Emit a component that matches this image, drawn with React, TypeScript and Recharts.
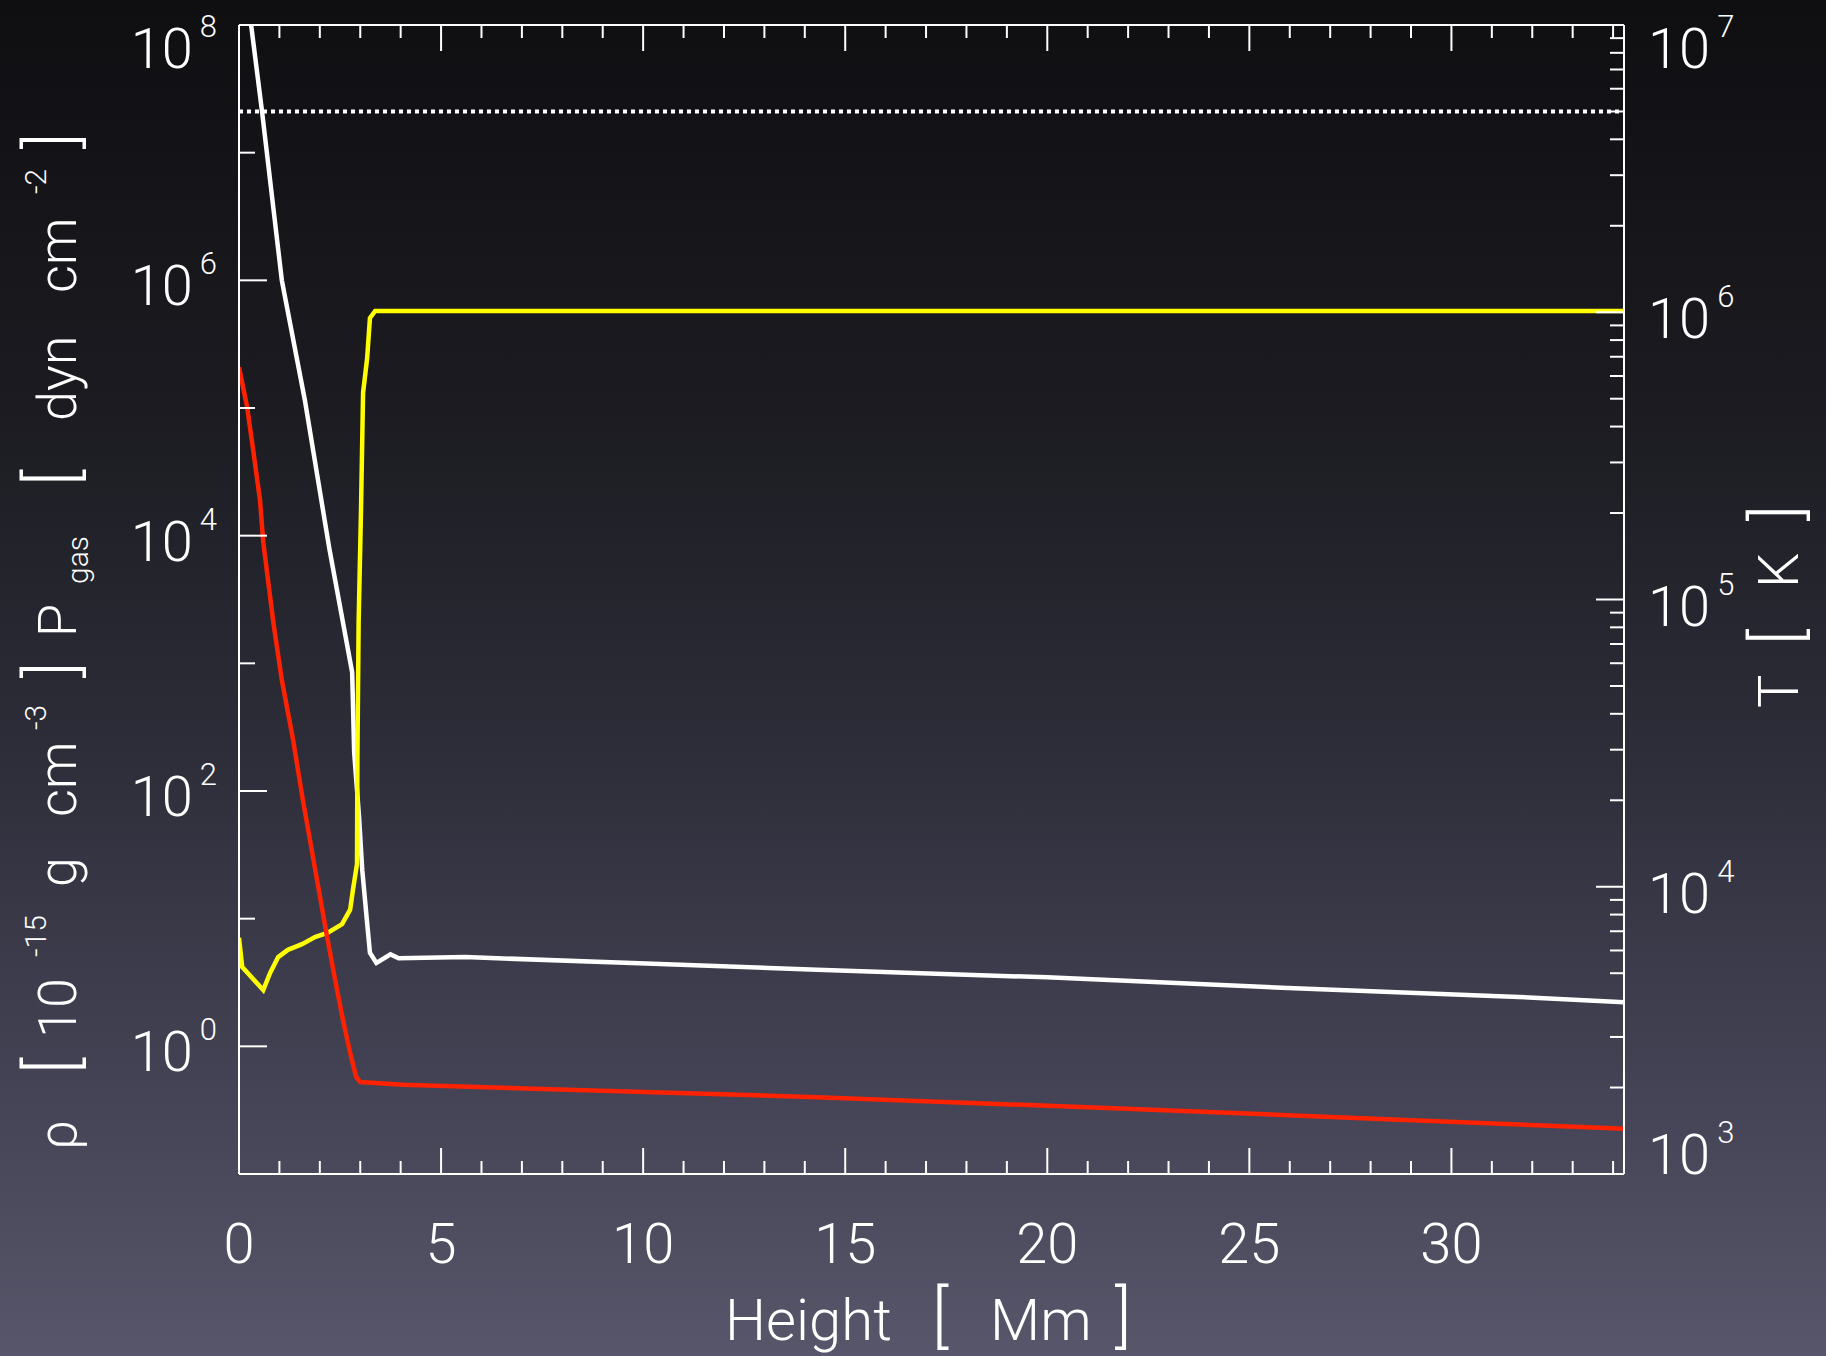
import React from 'react';
import { LineChart, Line, XAxis, YAxis } from 'recharts';

// height in Mm
const pgasHeight = [0, 0.3, 0.57, 1.06, 1.63, 2.23, 2.8, 2.85, 2.97, 3.05, 3.17, 3.24, 3.4, 3.75, 3.95, 5.6, 9.9, 14.3, 20.0, 25.8, 31.5, 34.27];
// gas pressure, dyn cm^-2
const pgasValue = [6.0e8, 1.0e8, 2.1e7, 1.0e6, 1.15e5, 8100, 850, 200, 63, 24, 9.3, 5.4, 4.5, 5.25, 4.9, 5.0, 4.47, 3.98, 3.47, 2.88, 2.45, 2.21];

const rhoHeight = [0, 0.2, 0.35, 0.52, 0.6, 0.85, 1.06, 1.34, 1.58, 1.71, 1.96, 2.18, 2.38, 2.57, 2.75, 2.9, 3.0, 4.06, 14.3, 22.9, 28.7, 34.27];
// density, 1e-15 g cm^-3
const rhoValue = [2.09e5, 1.02e5, 4.7e4, 1.9e4, 8900, 2090, 740, 250, 85, 50, 17.8, 7.2, 3.3, 1.62, 0.89, 0.575, 0.525, 0.5, 0.4, 0.316, 0.266, 0.226];

const tempHeight = [0, 0.08, 0.6, 0.77, 0.97, 1.21, 1.56, 1.88, 2.2, 2.55, 2.75, 2.82, 2.92, 2.93, 2.96, 3.02, 3.07, 3.17, 3.24, 3.37, 34.27];
// temperature, K
const tempValue = [6650, 5250, 4370, 5010, 5690, 6030, 6310, 6680, 6920, 7410, 8320, 9770, 12000, 28000, 83000, 209000, 525000, 690000, 955000, 1.01e6, 1.01e6];

// dotted reference level (right axis)
const refHeight = [0, 34.27];
const refTemp = [5.0e6, 5.0e6];

const heightTicks = [0, 1, 2, 3, 4, 5, 6, 7, 8, 9, 10, 11, 12, 13, 14, 15, 16, 17, 18, 19, 20, 21, 22, 23, 24, 25, 26, 27, 28, 29, 30, 31, 32, 33, 34];
const leftDecades = [1e-1, 1e0, 1e1, 1e2, 1e3, 1e4, 1e5, 1e6, 1e7, 1e8];
const rightDecades = [1e3, 1e4, 1e5, 1e6];
const rightTicks = [...rightDecades.flatMap((d) => [1, 2, 3, 4, 5, 6, 7, 8, 9].map((m) => m * d)), 1e7];

const W = 1826;
const H = 1356;
const FONT = 'Roboto, "DejaVu Sans", sans-serif';
const TOP = 25;
const BOTTOM = 1174;

const rows = (hs: number[], vs: number[]) => hs.map((h, i) => ({ h, v: vs[i] }));
const clamp = (v: number, lo: number, hi: number) => Math.max(lo, Math.min(hi, v));
const expOf = (v: number) => Math.round(Math.log10(v));
const isDecade = (v: number) => Math.abs(Math.log10(v) - Math.round(Math.log10(v))) < 1e-6;

const txt = { fill: '#fff', fontFamily: FONT, fontWeight: 300 } as const;

const Pow = ({ x, cy, e, anchor }: { x: number; cy: number; e: number; anchor: 'start' | 'end' }) => (
  <text x={x} y={cy + 20} textAnchor={anchor} fontSize={56} {...txt}>
    10
    <tspan dx={7} dy={-31} fontSize={31}>{e}</tspan>
  </text>
);

function BottomTick(props: any) {
  const { x, y, payload } = props;
  const v = payload.value;
  const major = v % 5 === 0;
  return (
    <g>
      <line x1={x} x2={x} y1={y} y2={y - (major ? 26 : 13)} stroke="#fff" strokeWidth={2} />
      {major && (
        <text x={x} y={y + 89} textAnchor="middle" fontSize={56} {...txt}>{v}</text>
      )}
    </g>
  );
}

function TopTick(props: any) {
  const { x, y, payload } = props;
  const major = payload.value % 5 === 0;
  return <line x1={x} x2={x} y1={y} y2={y + (major ? 26 : 13)} stroke="#fff" strokeWidth={2} />;
}

function LeftTick(props: any) {
  const { x, y, payload } = props;
  const e = expOf(payload.value);
  const major = e % 2 === 0;
  return (
    <g>
      <line x1={x} x2={x + (major ? 28 : 16)} y1={y} y2={y} stroke="#fff" strokeWidth={2} />
      {major && <Pow x={x - 22} cy={clamp(y + 5, TOP + 23, BOTTOM - 20)} e={e} anchor="end" />}
    </g>
  );
}

function RightTick(props: any) {
  const { x, y, payload } = props;
  const major = isDecade(payload.value);
  return (
    <g>
      <line x1={x} x2={x - (major ? 28 : 14)} y1={y} y2={y} stroke="#fff" strokeWidth={2} />
      {major && <Pow x={x + 24} cy={clamp(y + 6, TOP + 23, BOTTOM - 20)} e={expOf(payload.value)} anchor="start" />}
    </g>
  );
}

const Titles = () => (
  <svg width={W} height={H} style={{ position: 'absolute', left: 0, top: 0, pointerEvents: 'none' }}>
    <text y={1340} fontSize={58} {...txt}>
      <tspan x={725}>Height</tspan>
      <tspan x={932} fontSize={68}>[</tspan>
      <tspan x={990}>Mm</tspan>
      <tspan x={1115} fontSize={68}>]</tspan>
    </text>
    <text transform="rotate(-90)" fontSize={54} {...txt}>
      <tspan x={-1150} y={76}>ρ</tspan>
      <tspan x={-1074} y={76} fontSize={68}>[</tspan>
      <tspan x={-1038} y={76}>10</tspan>
      <tspan x={-957} y={46} fontSize={30}>-15</tspan>
      <tspan x={-887} y={76}>g</tspan>
      <tspan x={-817} y={76}>cm</tspan>
      <tspan x={-730} y={46} fontSize={30}>-3</tspan>
      <tspan x={-678} y={76} fontSize={68}>]</tspan>
      <tspan x={-637} y={76}>P</tspan>
      <tspan x={-584} y={88} fontSize={30}>gas</tspan>
      <tspan x={-486} y={76} fontSize={68}>[</tspan>
      <tspan x={-421} y={76}>dyn</tspan>
      <tspan x={-293} y={76}>cm</tspan>
      <tspan x={-194} y={46} fontSize={30}>-2</tspan>
      <tspan x={-149} y={76} fontSize={68}>]</tspan>
    </text>
    <text transform="rotate(-90)" fontSize={56} {...txt}>
      <tspan x={-708} y={1798}>T</tspan>
      <tspan x={-645} y={1800} fontSize={66}>[</tspan>
      <tspan x={-588} y={1798}>K</tspan>
      <tspan x={-521} y={1800} fontSize={66}>]</tspan>
    </text>
  </svg>
);

export default function App() {
  return (
    <div
      style={{
        position: 'absolute',
        left: 0,
        top: 0,
        width: W,
        height: H,
        overflow: 'hidden',
        background: 'linear-gradient(to bottom, #0f0f12 0%, #1b1b21 30%, #2d2d39 55%, #444355 80%, #57566a 100%)',
      }}
    >
      <LineChart width={W} height={H} margin={{ top: 0, right: 0, bottom: 0, left: 0 }}>
        <XAxis
          xAxisId="b"
          type="number"
          dataKey="h"
          domain={[0, 34.27]}
          allowDataOverflow
          ticks={heightTicks}
          interval={0}
          height={H - BOTTOM}
          tickSize={0}
          tickMargin={0}
          tickLine={false}
          tick={BottomTick}
          axisLine={{ stroke: '#fff', strokeWidth: 2 }}
        />
        <XAxis
          xAxisId="t"
          orientation="top"
          type="number"
          dataKey="h"
          domain={[0, 34.27]}
          allowDataOverflow
          ticks={heightTicks}
          interval={0}
          height={TOP}
          tickSize={0}
          tickMargin={0}
          tickLine={false}
          tick={TopTick}
          axisLine={{ stroke: '#fff', strokeWidth: 2 }}
        />
        <YAxis
          yAxisId="l"
          type="number"
          scale="log"
          domain={[0.1, 1e8]}
          allowDataOverflow
          ticks={leftDecades}
          interval={0}
          width={239}
          tickSize={0}
          tickMargin={0}
          tickLine={false}
          tick={LeftTick}
          axisLine={{ stroke: '#fff', strokeWidth: 2 }}
        />
        <YAxis
          yAxisId="r"
          orientation="right"
          type="number"
          scale="log"
          domain={[1e3, 1e7]}
          allowDataOverflow
          ticks={rightTicks}
          interval={0}
          width={202}
          tickSize={0}
          tickMargin={0}
          tickLine={false}
          tick={RightTick}
          axisLine={{ stroke: '#fff', strokeWidth: 2 }}
        />
        <Line
          xAxisId="b"
          yAxisId="r"
          data={rows(refHeight, refTemp)}
          dataKey="v"
          stroke="#fff"
          strokeWidth={4}
          strokeDasharray="4 4"
          dot={false}
          isAnimationActive={false}
        />
        <Line
          xAxisId="b"
          yAxisId="l"
          data={rows(pgasHeight, pgasValue)}
          dataKey="v"
          stroke="#fff"
          strokeWidth={4.5}
          dot={false}
          isAnimationActive={false}
        />
        <Line
          xAxisId="b"
          yAxisId="r"
          data={rows(tempHeight, tempValue)}
          dataKey="v"
          stroke="#ffff00"
          strokeWidth={4.5}
          dot={false}
          isAnimationActive={false}
        />
        <Line
          xAxisId="b"
          yAxisId="l"
          data={rows(rhoHeight, rhoValue)}
          dataKey="v"
          stroke="#ff2200"
          strokeWidth={4.5}
          dot={false}
          isAnimationActive={false}
        />
      </LineChart>
      <Titles />
    </div>
  );
}
